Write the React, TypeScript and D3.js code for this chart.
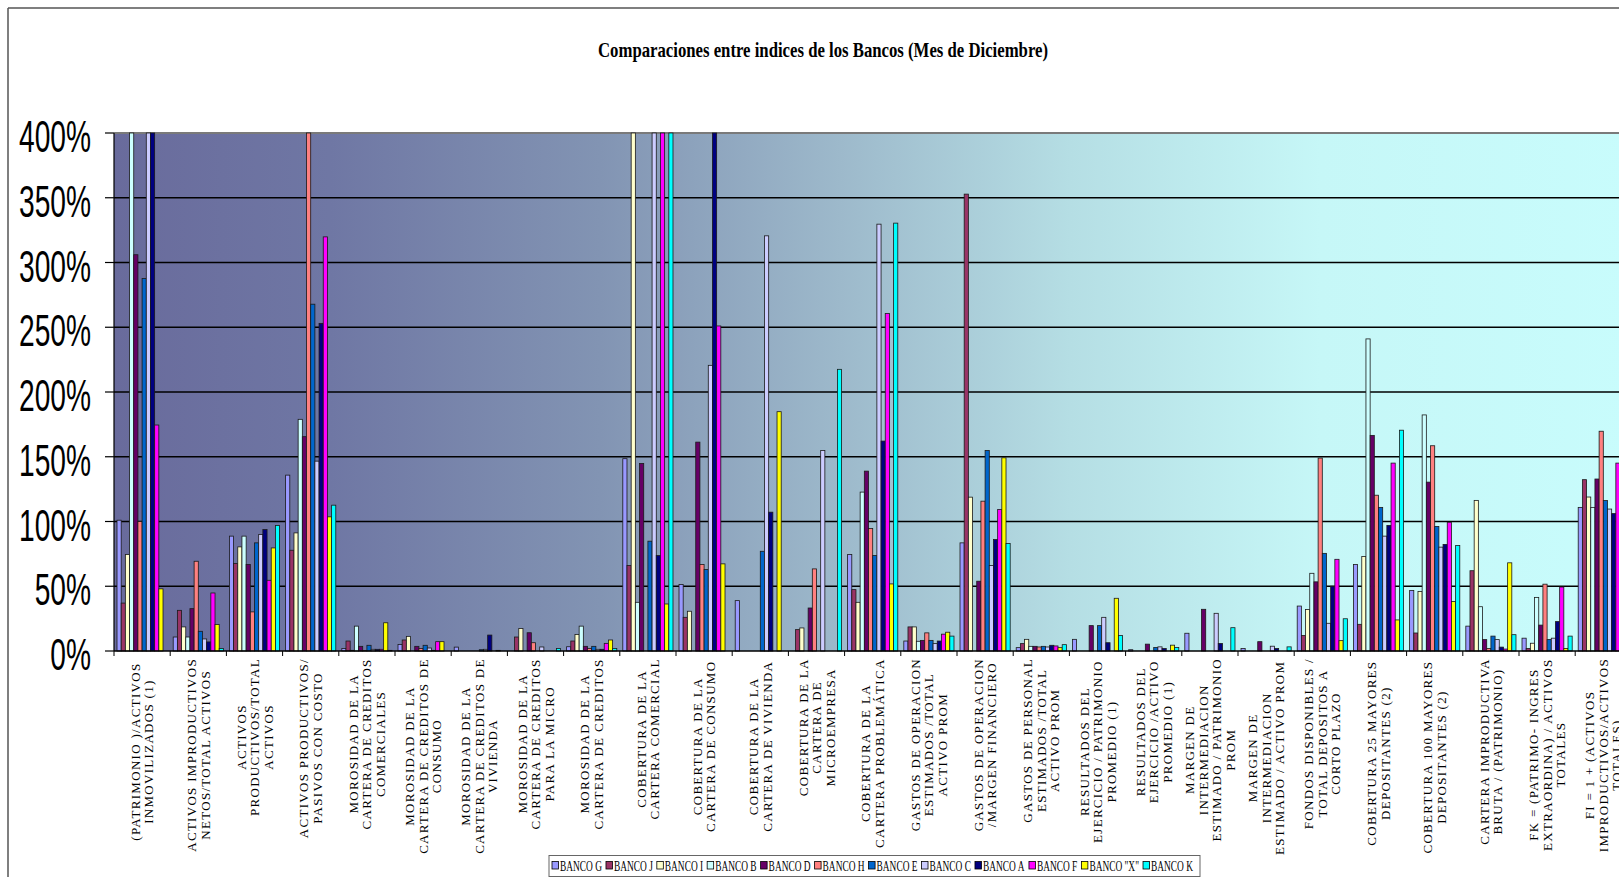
import React from 'react';
import * as d3 from 'd3';

const bankNames = ['BANCO G', 'BANCO J', 'BANCO I', 'BANCO B', 'BANCO D', 'BANCO H', 'BANCO E', 'BANCO C', 'BANCO A', 'BANCO F', 'BANCO "X"', 'BANCO K'];
const bankColors = ['#9999FF', '#993366', '#FFFFCC', '#CCFFFF', '#660066', '#FF8080', '#0066CC', '#CCCCFF', '#000080', '#FF00FF', '#FFFF00', '#00FFFF'];

const categoryLabels: string[][] = [
  ['(PATRIMONIO   )/ACTIVOS', 'INMOVILIZADOS (1)'],
  ['ACTIVOS IMPRODUCTIVOS', 'NETOS/TOTAL ACTIVOS'],
  ['ACTIVOS', 'PRODUCTIVOS/TOTAL', 'ACTIVOS'],
  ['ACTIVOS PRODUCTIVOS/', 'PASIVOS CON COSTO'],
  ['MOROSIDAD DE LA', 'CARTERA DE CREDITOS', 'COMERCIALES'],
  ['MOROSIDAD DE LA', 'CARTERA DE CREDITOS DE', 'CONSUMO'],
  ['MOROSIDAD DE LA', 'CARTERA DE CREDITOS DE', 'VIVIENDA'],
  ['MOROSIDAD DE LA', 'CARTERA DE CREDITOS', 'PARA LA MICRO'],
  ['MOROSIDAD DE LA', 'CARTERA DE CREDITOS'],
  ['COBERTURA DE LA', 'CARTERA COMERCIAL'],
  ['COBERTURA DE LA', 'CARTERA DE  CONSUMO'],
  ['COBERTURA DE LA', 'CARTERA DE  VIVIENDA'],
  ['COBERTURA DE LA', 'CARTERA DE', 'MICROEMPRESA'],
  ['COBERTURA DE LA', 'CARTERA PROBLEMÁTICA'],
  ['GASTOS DE OPERACION', 'ESTIMADOS /TOTAL', 'ACTIVO PROM'],
  ['GASTOS DE OPERACION', '/MARGEN FINANCIERO'],
  ['GASTOS DE PERSONAL', 'ESTIMADOS  /TOTAL', 'ACTIVO PROM'],
  ['RESULTADOS  DEL', 'EJERCICIO  / PATRIMONIO', 'PROMEDIO (1)'],
  ['RESULTADOS DEL', 'EJERCICIO  /ACTIVO', 'PROMEDIO (1)'],
  ['MARGEN DE', 'INTERMEDIACION', 'ESTIMADO / PATRIMONIO', 'PROM'],
  ['MARGEN DE', 'INTERMEDIACION', 'ESTIMADO / ACTIVO  PROM'],
  ['FONDOS DISPONIBLES /', 'TOTAL DEPOSITOS A', 'CORTO PLAZO'],
  ['COBERTURA  25 MAYORES', 'DEPOSITANTES (2)'],
  ['COBERTURA  100 MAYORES', 'DEPOSITANTES (2)'],
  ['CARTERA IMPRODUCTIVA', 'BRUTA / (PATRIMONIO)'],
  ['FK = (PATRIMO- INGRES', 'EXTRAORDINA) / ACTIVOS', 'TOTALES'],
  ['FI = 1 + (ACTIVOS', 'IMPRODUCTIVOS/ACTIVOS', 'TOTALES)'],
];

// values in percent, one entry per category
const bancoG = [101, 10.8, 88.7, 135.8, 2, 5.1, 3, 0, 3.3, 148.5, 51.3, 38.9, 0, 74.5, 7.7, 83.5, 2.6, 9, 1, 13.7, 1.9, 34.7, 66.8, 46.8, 19.2, 9.9, 110.9];
const bancoJ = [37, 31.4, 67.5, 77.8, 7.7, 8.5, 0, 10.8, 7.7, 66, 26, 0, 16.5, 47.4, 18.6, 352.8, 5.7, 0, 0, 0, 0, 12, 20.6, 13.9, 62, 2, 132.3];
const bancoI = [74.5, 18.6, 80.4, 91.2, 0.5, 11.3, 0, 17.4, 12.8, 450, 30.7, 0, 17.8, 37.6, 18.6, 118.8, 9, 0, 0, 0, 0, 32, 73, 46, 116.3, 6, 118.9];
const bancoB = [450, 10.8, 88.7, 178.9, 19.2, 0, 0, 0, 19.2, 37.6, 0, 0, 0, 122.7, 7.5, 0, 3.6, 0, 0, 0, 0, 60, 241, 182.3, 34.2, 41.4, 110.9];
const bancoD = [306, 32.7, 66.8, 165.5, 3.6, 3.6, 0, 14.1, 3.6, 144.8, 161.3, 0, 33.2, 138.9, 8.2, 53.9, 3.6, 19.6, 5.3, 32.2, 7.2, 53.4, 166.5, 130.4, 8.8, 20, 132.8];
const bancoH = [100, 69.3, 30.2, 450, 0.3, 2, 0, 6.4, 2, 0, 66.8, 0, 63.4, 94.6, 14, 115.7, 3.1, 0, 0, 0, 0, 149, 120.3, 158.5, 2, 51.6, 169.7];
const bancoE = [287.6, 15.2, 83.5, 267.8, 4.4, 4.4, 1, 0, 3.6, 84.8, 62.9, 77, 0, 73.7, 8.2, 154.9, 3.6, 19.6, 2.7, 0, 0, 75.4, 110.9, 96.2, 11.5, 8.8, 116.2];
const bancoC = [450, 9.3, 90, 146.6, 1.3, 2.3, 1.3, 3.1, 1.3, 450, 220.6, 320.6, 154.9, 329.6, 5.7, 66, 3.1, 26, 3.2, 29.1, 3.7, 21.4, 88.7, 80.2, 8.8, 9.9, 109.6];
const bancoA = [450, 7, 93.8, 253, 1.3, 0.5, 12.3, 0, 1.3, 73.7, 450, 107.2, 0, 162.1, 7.7, 86.1, 4.4, 6.4, 1.9, 5.8, 1.9, 50, 97, 82.3, 3, 22.7, 106.1];
const bancoF = [174.5, 44.8, 54.6, 319.8, 1.3, 7.2, 0, 0, 5.9, 450, 251, 0, 0, 260.6, 13, 109.3, 3.9, 0, 0, 0, 0, 70.8, 145.1, 99.4, 1.5, 49.4, 145.1];
const bancoX = [48, 20.4, 79.6, 103.6, 21.8, 7.2, 0.5, 0, 8.5, 36.3, 67.3, 184.8, 0, 51.8, 14.5, 149.2, 2.6, 40.7, 4.5, 0, 0, 8, 24, 38.2, 68.1, 2, 105];
const bancoK = [0, 2, 96.9, 112.6, 0.5, 0, 0, 2, 2, 450, 0, 0, 217.5, 330.4, 11.5, 83, 4.9, 11.9, 2.7, 18, 3.2, 24.9, 170.5, 81.5, 12.6, 11.5, 108];

const seriesValues = [bancoG, bancoJ, bancoI, bancoB, bancoD, bancoH, bancoE, bancoC, bancoA, bancoF, bancoX, bancoK];
const yTickValues = [0, 50, 100, 150, 200, 250, 300, 350, 400];

const W = 1619;
const H = 877;
const PLOT_LEFT = 114;
const PLOT_TOP = 133;
const PLOT_BOTTOM = 651;
const STEP = 56.2;

let measureCtx: CanvasRenderingContext2D | null = null;
function textWidth(s: string, font: string, ls = 0): number {
  if (!measureCtx && typeof document !== 'undefined') {
    measureCtx = document.createElement('canvas').getContext('2d');
  }
  if (!measureCtx) return s.length * 7 + ls * s.length;
  measureCtx.font = font;
  return measureCtx.measureText(s).width + ls * s.length;
}

export default function App() {
  const n = categoryLabels.length;
  const x = d3
    .scaleBand<number>()
    .domain(d3.range(n))
    .range([PLOT_LEFT, PLOT_LEFT + n * STEP])
    .paddingInner(0.107)
    .paddingOuter(0.0535);
  const xb = d3.scaleBand<number>().domain(d3.range(bankNames.length)).range([0, x.bandwidth()]);
  const y = d3.scaleLinear().domain([0, 400]).range([PLOT_BOTTOM, PLOT_TOP]).clamp(true);

  const labelFontSize = 13;
  const labelLs = 1.3;
  const labelFont = `${labelFontSize}px "Liberation Serif"`;
  const lineGap = 13.5;

  // legend layout
  const legFontSize = 15;
  const legFont = `${legFontSize}px "Liberation Serif"`;
  const legLeft = 549;
  const legRight = 1200;
  const natW = bankNames.map((b) => textWidth(b, legFont));
  const sq = 6.5;
  const itemExtra = sq + 1.5 + 4;
  const legSx = (legRight - legLeft - 6 - itemExtra * bankNames.length) / d3.sum(natW);
  let cursor = legLeft + 3;
  const legItems = bankNames.map((b, i) => {
    const item = { name: b, color: bankColors[i], x: cursor, w: natW[i] * legSx };
    cursor += itemExtra + natW[i] * legSx;
    return item;
  });

  const ySx = 0.64;

  return (
    <svg width={W} height={H} style={{ position: 'absolute', left: 0, top: 0, background: '#fff' }}>
      <defs>
        <linearGradient id="bg" gradientUnits="userSpaceOnUse" x1={PLOT_LEFT} x2={PLOT_LEFT + n * STEP} y1={0} y2={0}>
          <stop offset={0} stopColor="#696B9C" />
          <stop offset={(330 - PLOT_LEFT) / (n * STEP)} stopColor="#6F77A4" />
          <stop offset={(600 - PLOT_LEFT) / (n * STEP)} stopColor="#8294B3" />
          <stop offset={(840 - PLOT_LEFT) / (n * STEP)} stopColor="#9DB9CB" />
          <stop offset={(1070 - PLOT_LEFT) / (n * STEP)} stopColor="#B5DEE4" />
          <stop offset={(1320 - PLOT_LEFT) / (n * STEP)} stopColor="#C6F7F7" />
          <stop offset={1} stopColor="#C8FCFC" />
        </linearGradient>
      </defs>

      {/* chart area frame */}
      <line x1={8} y1={8} x2={W} y2={8} stroke="#555" strokeWidth={1.5} />
      <line x1={8} y1={8} x2={8} y2={H} stroke="#555" strokeWidth={1.5} />

      {/* title */}
      <text
        x={823}
        y={57}
        textAnchor="middle"
        fontFamily='"Liberation Serif", "Times New Roman", serif'
        fontWeight="bold"
        fontSize={22}
        textLength={450}
        lengthAdjust="spacingAndGlyphs"
      >
        Comparaciones entre indices de los Bancos (Mes de Diciembre)
      </text>

      {/* plot area */}
      <rect x={PLOT_LEFT} y={PLOT_TOP} width={n * STEP} height={PLOT_BOTTOM - PLOT_TOP} fill="url(#bg)" />

      {/* gridlines */}
      {yTickValues.slice(1, -1).map((v) => (
        <line key={v} x1={PLOT_LEFT} x2={W} y1={y(v)} y2={y(v)} stroke="#000" strokeWidth={1.4} />
      ))}
      <line x1={PLOT_LEFT} x2={W} y1={PLOT_TOP} y2={PLOT_TOP} stroke="#7a7a7a" strokeWidth={2} />

      {/* bars */}
      {seriesValues.map((vals, s) => (
        <g key={s} fill={bankColors[s]} stroke="#1a1a1a" strokeWidth={0.8}>
          {vals.map((v, c) =>
            v > 0 ? (
              <rect
                key={c}
                x={(x(c) as number) + (xb(s) as number)}
                y={y(v)}
                width={xb.bandwidth()}
                height={PLOT_BOTTOM - y(v)}
              />
            ) : null
          )}
        </g>
      ))}

      {/* axes */}
      <line x1={PLOT_LEFT} x2={PLOT_LEFT} y1={PLOT_TOP} y2={PLOT_BOTTOM} stroke="#000" strokeWidth={1.2} />
      <line x1={PLOT_LEFT} x2={W} y1={PLOT_BOTTOM} y2={PLOT_BOTTOM} stroke="#000" strokeWidth={1.4} />
      {yTickValues.map((v) => (
        <line key={v} x1={105} x2={PLOT_LEFT} y1={y(v)} y2={y(v)} stroke="#000" strokeWidth={1.2} />
      ))}
      {d3.range(n + 1).map((i) => (
        <line
          key={i}
          x1={PLOT_LEFT + i * STEP}
          x2={PLOT_LEFT + i * STEP}
          y1={PLOT_BOTTOM}
          y2={PLOT_BOTTOM + 5}
          stroke="#000"
          strokeWidth={1}
        />
      ))}

      {/* y tick labels */}
      {yTickValues.map((v) => (
        <text
          key={v}
          transform={`translate(91,${y(v) + 19}) scale(${ySx},1)`}
          textAnchor="end"
          fontFamily='"Liberation Sans", Arial, sans-serif'
          fontSize={44}
          fill="#000"
        >
          {`${v}%`}
        </text>
      ))}

      {/* category labels */}
      {categoryLabels.map((lines, c) => {
        const cx = PLOT_LEFT + (c + 0.5) * STEP;
        const maxW = d3.max(lines, (l) => textWidth(l, labelFont, labelLs)) as number;
        const cy = 658 + maxW / 2;
        return (
          <g key={c}>
            {lines.map((l, j) => (
              <text
                key={j}
                transform={`translate(${cx + (j - (lines.length - 1) / 2) * lineGap},${cy}) rotate(-90)`}
                textAnchor="middle"
                dominantBaseline="central"
                fontFamily='"Liberation Serif", "Times New Roman", serif'
                fontSize={labelFontSize}
                letterSpacing={labelLs}
                fill="#000"
              >
                {l}
              </text>
            ))}
          </g>
        );
      })}

      {/* legend */}
      <rect x={legLeft} y={855.5} width={legRight - legLeft} height={21} fill="#fff" stroke="#666" strokeWidth={1} />
      {legItems.map((it) => (
        <g key={it.name}>
          <rect x={it.x} y={861.5} width={sq} height={sq + 1} fill={it.color} stroke="#000" strokeWidth={0.8} />
          <text
            transform={`translate(${it.x + sq + 1.5},${870.5}) scale(${legSx},1)`}
            fontFamily='"Liberation Serif", "Times New Roman", serif'
            fontSize={legFontSize}
            fill="#000"
          >
            {it.name}
          </text>
        </g>
      ))}
    </svg>
  );
}
